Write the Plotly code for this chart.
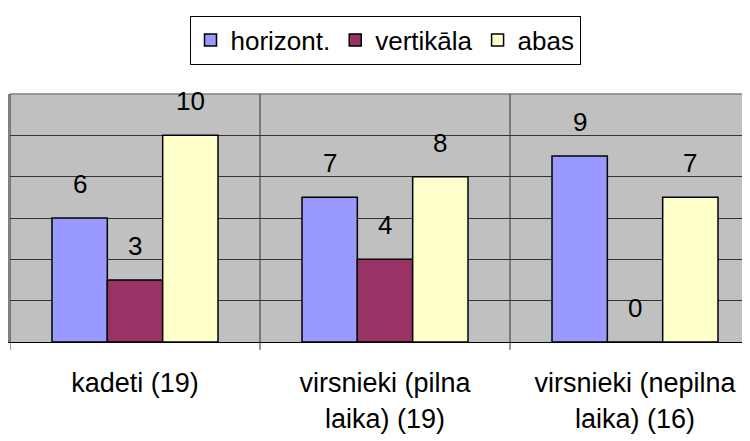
import plotly.graph_objects as go

categories = ["kadeti (19)", "virsnieki (pilna<br>laika) (19)", "virsnieki (nepilna<br>laika) (16)"]
series_names = ["horizont.", "vertikāla", "abas"]
horizont = [6, 7, 9]
vertikala = [3, 4, 0]
abas = [10, 8, 7]
series_values = [horizont, vertikala, abas]
colors = ["#9999FF", "#993366", "#FFFFCC"]
y_ticks = [0, 2, 4, 6, 8, 10, 12]

FONT = "Liberation Sans, Arial, sans-serif"
bargap = 0.336

# page body has an 8px default margin, so the figure is sized to fit the window
W, H, OFF = 742, 433, 8

fig = go.Figure()
for name, vals, col in zip(series_names, series_values, colors):
    fig.add_trace(go.Bar(
        x=list(range(len(categories))), y=vals, name=name,
        marker=dict(color=col, line=dict(color="black", width=1.5)),
    ))

bw = (1 - bargap) / len(series_values)
annotations = []
for si, vals in enumerate(series_values):
    off = (si - (len(series_values) - 1) / 2) * bw
    for ci, v in enumerate(vals):
        annotations.append(dict(
            x=ci + off, y=v, xref="x", yref="y", text=str(v), showarrow=False,
            yanchor="middle", yshift=34, font=dict(family=FONT, size=26, color="black"),
        ))

fig.update_layout(
    width=W, height=H,
    margin=dict(l=10 - OFF, r=0, t=94 - OFF, b=H - (342 - OFF), autoexpand=False),
    paper_bgcolor="white", plot_bgcolor="#C0C0C0",
    barmode="group", bargap=bargap, bargroupgap=0,
    font=dict(family=FONT, size=26, color="black"),
    showlegend=True,
    legend=dict(
        orientation="h", x=(385 - 10) / 740, xanchor="center",
        y=(H - (40 - OFF)) / H, yref="container", yanchor="middle",
        bgcolor="white", bordercolor="black", borderwidth=1,
        font=dict(family=FONT, size=26, color="black"), itemwidth=30,
        traceorder="normal",
    ),
    annotations=annotations,
    xaxis=dict(
        tickmode="array", tickvals=list(range(len(categories))), ticktext=categories,
        range=[-0.5, 2.46], showgrid=False, automargin=False,
        ticks="", showline=True, linecolor="black", linewidth=1,
        ticklabelstandoff=17,
        tickfont=dict(family=FONT, size=27, color="black"),
    ),
    yaxis=dict(
        range=[0, 12], tickvals=y_ticks, showticklabels=False, automargin=False,
        showgrid=True, gridcolor="#333333", gridwidth=1,
        showline=True, linecolor="#808080", linewidth=1.5, zeroline=False,
    ),
    shapes=[
        dict(type="line", xref="paper", yref="paper", x0=0, x1=1, y0=1, y1=1,
             line=dict(color="#808080", width=1.5)),
    ] + [
        dict(type="line", xref="x", yref="paper", x0=b, x1=b, y0=-0.032, y1=1,
             line=dict(color="#333333", width=1))
        for b in [-0.5, 0.5, 1.5]
    ],
)

fig.write_html("out.html")
